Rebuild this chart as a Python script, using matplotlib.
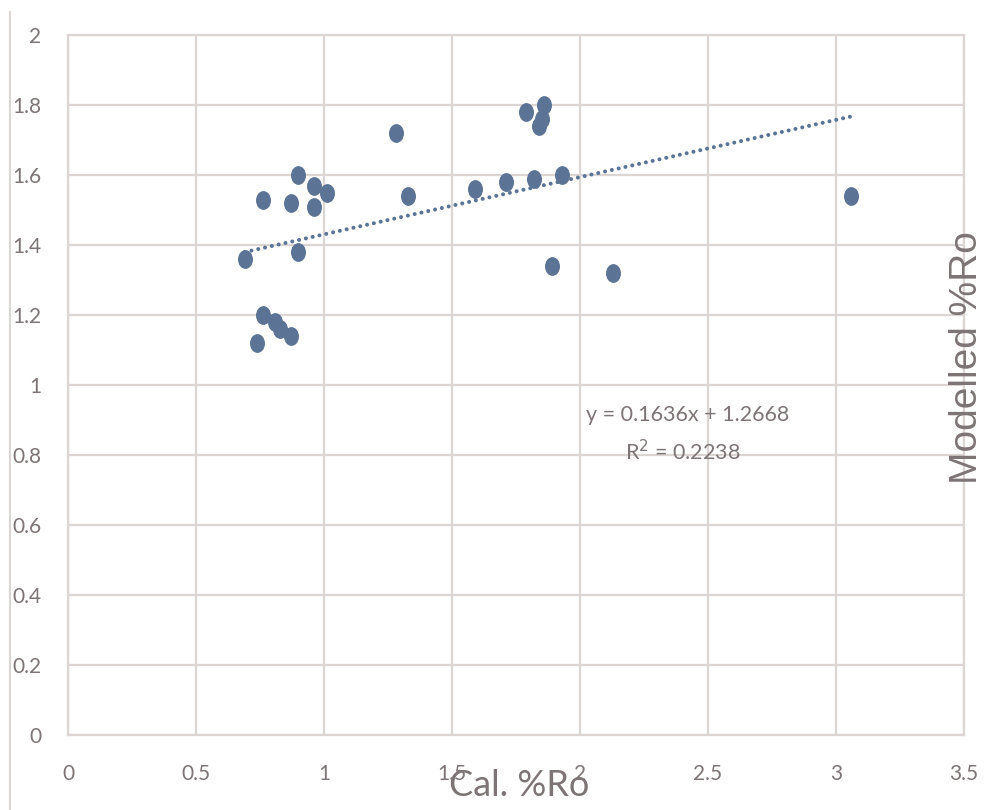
import matplotlib
matplotlib.use("Agg")
import matplotlib.pyplot as plt
from matplotlib.path import Path
from matplotlib.transforms import Affine2D
from matplotlib.lines import Line2D

# Calibrated vs modelled vitrinite reflectance
cal_ro = [0.69, 0.76, 0.90, 0.87, 0.96, 0.96, 1.01, 0.90, 0.76, 0.81, 0.83, 0.87, 0.74,
          1.28, 1.33, 1.59, 1.71, 1.82, 1.79, 1.86, 1.85, 1.84, 1.93, 1.89, 2.13, 3.06]
modelled_ro = [1.36, 1.53, 1.60, 1.52, 1.57, 1.51, 1.55, 1.38, 1.20, 1.18, 1.16, 1.14, 1.12,
               1.72, 1.54, 1.56, 1.58, 1.59, 1.78, 1.80, 1.76, 1.74, 1.60, 1.34, 1.32, 1.54]

slope = 0.1636
intercept = 1.2668
r_squared = 0.2238

x_ticks = [0, 0.5, 1, 1.5, 2, 2.5, 3, 3.5]
x_tick_labels = ["0", "0.5", "1", "1.5", "2", "2.5", "3", "3.5"]
y_ticks = [0, 0.2, 0.4, 0.6, 0.8, 1, 1.2, 1.4, 1.6, 1.8, 2]
y_tick_labels = ["0", "0.2", "0.4", "0.6", "0.8", "1", "1.2", "1.4", "1.6", "1.8", "2"]

BODY_FONT = ["Lato", "DejaVu Sans"]
TEXT_GREY = "#7d7575"
GRID_GREY = "#dbd5d3"
POINT_BLUE = "#5b7395"

fig = plt.figure(figsize=(9.92, 8.10), dpi=100)
ax = fig.add_axes([68 / 992, 75 / 810, 896 / 992, 700 / 810])

# Slightly tall elliptical marker
ellipse = Affine2D().scale(0.78, 1.0).transform_path(Path.unit_circle())
ax.plot(cal_ro, modelled_ro, linestyle="none", marker=ellipse, markersize=12.5,
        color=POINT_BLUE, zorder=3, clip_on=False)

# Linear trendline over the data range, drawn as round dots
x0, x1 = min(cal_ro), max(cal_ro)
ax.plot([x0, x1], [slope * x0 + intercept, slope * x1 + intercept],
        color=POINT_BLUE, linewidth=2.9, linestyle=(0, (0.01, 1.72)),
        dash_capstyle="round", zorder=2)

ax.text(2.42, 0.915, f"y = {slope:.4f}x + {intercept:.4f}", ha="center", va="center",
        fontsize=15.5, color=TEXT_GREY, family=BODY_FONT)
ax.text(2.40, 0.81, f"R$^2$ = {r_squared:.4f}", ha="center", va="center",
        fontsize=15.5, color=TEXT_GREY, family=BODY_FONT)

ax.set_xlim(0, 3.5)
ax.set_ylim(0, 2)
ax.set_xticks(x_ticks)
ax.set_xticklabels(x_tick_labels)
ax.set_yticks(y_ticks)
ax.set_yticklabels(y_tick_labels)
ax.tick_params(length=0, labelsize=15, labelcolor=TEXT_GREY)
ax.tick_params(axis="x", pad=21)
ax.tick_params(axis="y", pad=19)
for lbl in ax.get_xticklabels() + ax.get_yticklabels():
    lbl.set_family(BODY_FONT)

ax.grid(True, color=GRID_GREY, linewidth=1.6)
ax.set_axisbelow(True)
for sp in ax.spines.values():
    sp.set_color(GRID_GREY)
    sp.set_linewidth(1.6)

fig.text(519 / 992, 1 - 786 / 810, "Cal. %Ro", ha="center", va="center",
         fontsize=26, color=TEXT_GREY, family=BODY_FONT)
fig.text(967 / 992, 1 - 358 / 810, "Modelled %Ro", ha="center", va="center",
         rotation=90, fontsize=28, color=TEXT_GREY, family=["Liberation Sans", "DejaVu Sans"])

# Left frame edge
fig.add_artist(Line2D([10 / 992, 10 / 992], [0, 1 - 12 / 810], transform=fig.transFigure,
                      color=GRID_GREY, linewidth=1.5))

fig.savefig("out.png", dpi=100)
